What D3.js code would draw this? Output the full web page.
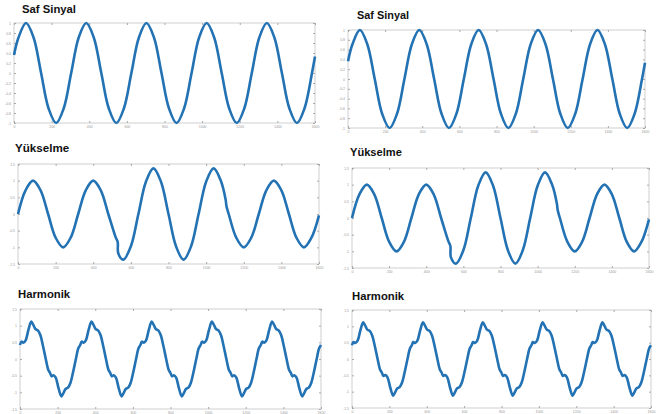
<!DOCTYPE html>
<html lang="tr">
<head>
<meta charset="UTF-8">
<title>Saf Sinyal / Yükselme / Harmonik</title>
<script src="https://cdn.jsdelivr.net/npm/d3@7/dist/d3.min.js"></script>
<style>
  body { margin: 0; background: #fff; }
  .title { font-family: "Liberation Sans", Arial, sans-serif; font-weight: bold; fill: #111; }
  .ax text { font-family: "Liberation Sans", Arial, sans-serif; fill: #999; }
  .ax path { display: none; }
  .ax line { stroke: #aaa; }
</style>
</head>
<body>
<script>
// x ekseni (örnek sayısı)
var xTicks = [0, 200, 400, 600, 800, 1000, 1200, 1400, 1600];

// y ekseni tikleri
var safTicks = [-1, -0.8, -0.6, -0.4, -0.2, 0, 0.2, 0.4, 0.6, 0.8, 1];
var wideTicks = [-1.5, -1, -0.5, 0, 0.5, 1, 1.5];

// saf sinyal - resimden okunan noktalar
var safX = [0, 24, 64, 104, 144, 184, 224, 264, 304, 344, 384, 424, 464, 504, 544, 584, 624, 664, 704, 744, 784,
            824, 864, 904, 944, 984, 1024, 1064, 1104, 1144, 1184, 1224, 1264, 1304, 1344, 1384, 1424, 1464, 1504, 1544, 1584, 1600];
var safY = [0.36, 0.71, 1, 0.71, 0, -0.71, -1, -0.71, 0, 0.71, 1, 0.71, 0, -0.71, -1, -0.71, 0, 0.71, 1, 0.71, 0,
            -0.71, -1, -0.71, 0, 0.71, 1, 0.71, 0, -0.71, -1, -0.71, 0, 0.71, 1, 0.71, 0, -0.71, -1, -0.71, 0, 0.33];

// yükselme (swell) - 530 civarında sıçrama, 1105 civarında geri dönüş
var yukX = [0, 40, 80, 120, 160, 200, 240, 280, 320, 360, 400, 440, 480, 520, 530, 533, 560, 600, 640, 680, 720, 760,
            800, 840, 880, 920, 960, 1000, 1040, 1080, 1104, 1108, 1120, 1160, 1200, 1240, 1280, 1320, 1360, 1400,
            1440, 1480, 1520, 1560, 1600];
var yukY = [0, 0.71, 1, 0.71, 0, -0.71, -1, -0.71, 0, 0.71, 1, 0.71, 0, -0.71, -0.84, -1.18, -1.37, -0.97, 0, 0.97, 1.37, 0.97,
            0, -0.97, -1.37, -0.97, 0, 0.97, 1.37, 0.97, 0.42, 0.24, 0, -0.71, -1, -0.71, 0, 0.71, 1, 0.71,
            0, -0.71, -1, -0.71, -0.04];

// harmonik - her satır bir periyot
var harX = [
  0, 8, 18, 30, 45, 60, 70, 82, 95, 108, 122, 137, 150, 160, 168, 178, 190, 205, 220, 230, 242, 255, 268, 282, 297, 310,
  320, 328, 338, 350, 365, 380, 390, 402, 415, 428, 442, 457, 470, 480, 488, 498, 510, 525, 540, 550, 562, 575, 588, 602, 617, 630,
  640, 648, 658, 670, 685, 700, 710, 722, 735, 748, 762, 777, 790, 800, 808, 818, 830, 845, 860, 870, 882, 895, 908, 922, 937, 950,
  960, 968, 978, 990, 1005, 1020, 1030, 1042, 1055, 1068, 1082, 1097, 1110, 1120, 1128, 1138, 1150, 1165, 1180, 1190, 1202, 1215, 1228, 1242, 1257, 1270,
  1280, 1288, 1298, 1310, 1325, 1340, 1350, 1362, 1375, 1388, 1402, 1417, 1430, 1440, 1448, 1458, 1470, 1485, 1500, 1510, 1522, 1535, 1548, 1562, 1577, 1590,
  1600];
var harY = [
  0.42, 0.52, 0.49, 0.56, 0.88, 1.12, 1.03, 0.90, 0.86, 0.72, 0.40, 0, -0.32, -0.42, -0.52, -0.49, -0.56, -0.88, -1.12, -1.03, -0.90, -0.86, -0.72, -0.40, 0, 0.32,
  0.42, 0.52, 0.49, 0.56, 0.88, 1.12, 1.03, 0.90, 0.86, 0.72, 0.40, 0, -0.32, -0.42, -0.52, -0.49, -0.56, -0.88, -1.12, -1.03, -0.90, -0.86, -0.72, -0.40, 0, 0.32,
  0.42, 0.52, 0.49, 0.56, 0.88, 1.12, 1.03, 0.90, 0.86, 0.72, 0.40, 0, -0.32, -0.42, -0.52, -0.49, -0.56, -0.88, -1.12, -1.03, -0.90, -0.86, -0.72, -0.40, 0, 0.32,
  0.42, 0.52, 0.49, 0.56, 0.88, 1.12, 1.03, 0.90, 0.86, 0.72, 0.40, 0, -0.32, -0.42, -0.52, -0.49, -0.56, -0.88, -1.12, -1.03, -0.90, -0.86, -0.72, -0.40, 0, 0.32,
  0.42, 0.52, 0.49, 0.56, 0.88, 1.12, 1.03, 0.90, 0.86, 0.72, 0.40, 0, -0.32, -0.42, -0.52, -0.49, -0.56, -0.88, -1.12, -1.03, -0.90, -0.86, -0.72, -0.40, 0, 0.32,
  0.42];

var titles = ["Saf Sinyal", "Yükselme", "Harmonik"];

// panel yerleşimi: sol ve sağ sütun
var panels = [
  {t: 0, xs: safX, ys: safY, yt: safTicks, x0: 14, x1: 315, y0: 23, y1: 123, tx: 22, ty: 12.5, fs: 11.3},
  {t: 1, xs: yukX, ys: yukY, yt: wideTicks, x0: 18, x1: 319, y0: 164, y1: 264, tx: 15, ty: 152, fs: 11.6},
  {t: 2, xs: harX, ys: harY, yt: wideTicks, x0: 20, x1: 321, y0: 309, y1: 409, tx: 18, ty: 298, fs: 11.3},
  {t: 0, xs: safX, ys: safY, yt: safTicks, x0: 348, x1: 645, y0: 30, y1: 128, tx: 357, ty: 18.5, fs: 10.9},
  {t: 1, xs: yukX, ys: yukY, yt: wideTicks, x0: 352, x1: 649, y0: 168, y1: 268, tx: 350, ty: 156, fs: 11.1},
  {t: 2, xs: harX, ys: harY, yt: wideTicks, x0: 352, x1: 651, y0: 310, y1: 408, tx: 352, ty: 300, fs: 11.3}
];

var svg = d3.select("body").append("svg")
    .attr("width", 657)
    .attr("height", 414);

var fmt = function (d) { return String(d); };

panels.forEach(function (p) {
  var yMin = d3.min(p.yt), yMax = d3.max(p.yt);
  var x = d3.scaleLinear().domain([0, 1600]).range([p.x0, p.x1]);
  var y = d3.scaleLinear().domain([yMin, yMax]).range([p.y1, p.y0]);

  var g = svg.append("g");

  // başlık
  g.append("text")
    .attr("class", "title")
    .attr("x", p.tx)
    .attr("y", p.ty)
    .style("font-size", p.fs + "px")
    .text(titles[p.t]);

  // çerçeve
  g.append("rect")
    .attr("x", p.x0)
    .attr("y", p.y0)
    .attr("width", p.x1 - p.x0)
    .attr("height", p.y1 - p.y0)
    .attr("fill", "none")
    .attr("stroke", "#c4c4c4")
    .attr("stroke-width", 0.8);

  // eksenler (tikler içeri dönük)
  g.append("g").attr("class", "ax")
    .attr("transform", "translate(0," + p.y1 + ")")
    .call(d3.axisBottom(x).tickValues(xTicks).tickSizeInner(-2).tickSizeOuter(0).tickPadding(3).tickFormat(fmt))
    .selectAll("text").style("font-size", "3.5px");
  g.append("g").attr("class", "ax")
    .attr("transform", "translate(0," + p.y0 + ")")
    .call(d3.axisTop(x).tickValues(xTicks).tickSizeInner(-2).tickSizeOuter(0).tickFormat(""));
  g.append("g").attr("class", "ax")
    .attr("transform", "translate(" + p.x0 + ",0)")
    .call(d3.axisLeft(y).tickValues(p.yt).tickSizeInner(-2).tickSizeOuter(0).tickPadding(3).tickFormat(fmt))
    .selectAll("text").style("font-size", "3.5px");
  g.append("g").attr("class", "ax")
    .attr("transform", "translate(" + p.x1 + ",0)")
    .call(d3.axisRight(y).tickValues(p.yt).tickSizeInner(-2).tickSizeOuter(0).tickFormat(""));

  // sinyal
  var line = d3.line()
    .x(function (d, i) { return x(p.xs[i]); })
    .y(function (d) { return y(d); })
    .curve(d3.curveCatmullRom.alpha(0.5));

  g.append("path")
    .datum(p.ys)
    .attr("d", line)
    .attr("fill", "none")
    .attr("stroke", "#2372b3")
    .attr("stroke-width", 2.6)
    .attr("stroke-linejoin", "round");
});
</script>
</body>
</html>
